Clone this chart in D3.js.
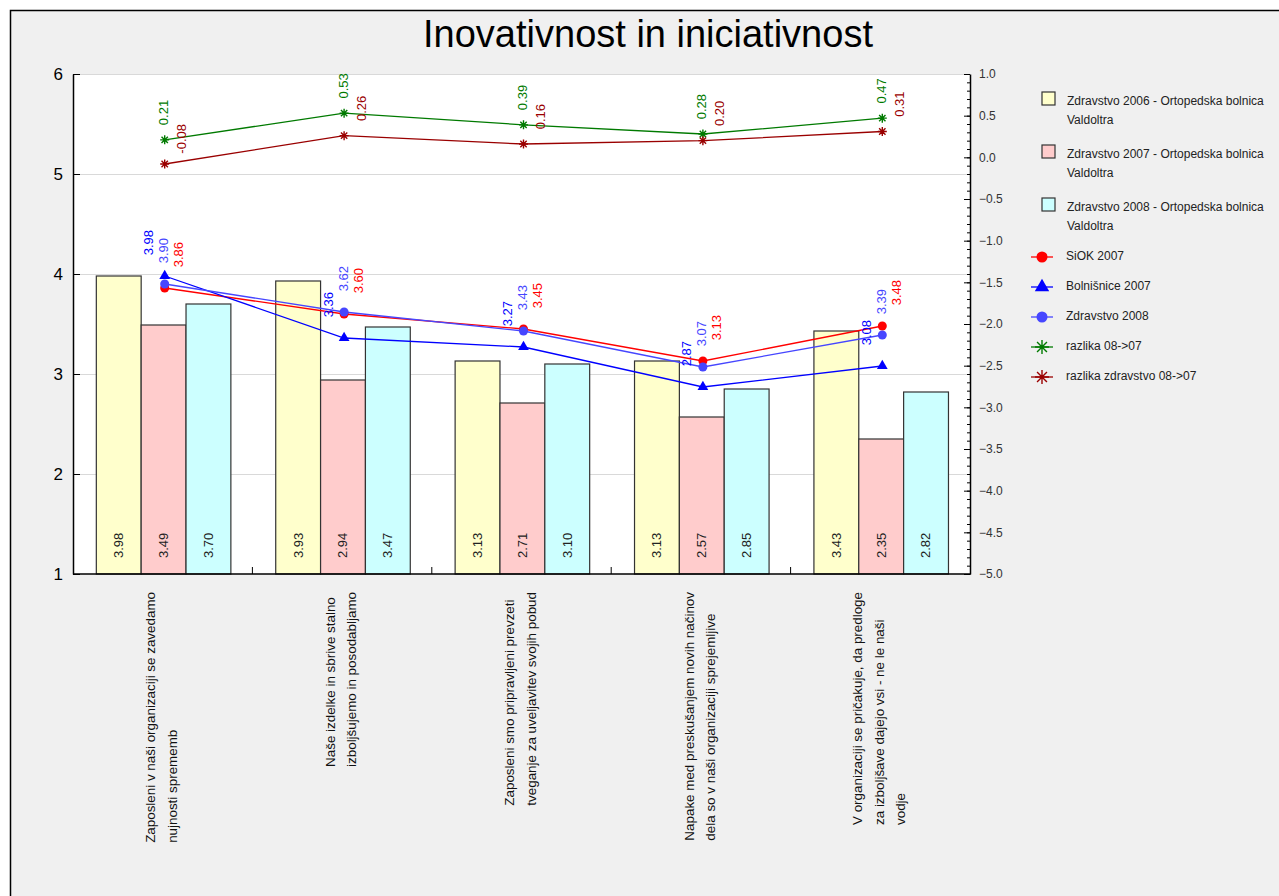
<!DOCTYPE html>
<html>
<head>
<meta charset="utf-8">
<script src="https://cdn.jsdelivr.net/npm/d3@7/dist/d3.min.js"></script>
<style>
  html, body { margin: 0; padding: 0; background: #ffffff; }
  svg { display: block; font-family: "Liberation Sans", Arial, sans-serif; }
</style>
</head>
<body>
<svg id="chart" width="1279" height="896"></svg>
<script>
// ---- data ----
const categories = [
  ["Zaposleni v naši organizaciji se zavedamo", "nujnosti sprememb"],
  ["Naše izdelke in sbrive stalno", "izboljšujemo in posodabljamo"],
  ["Zaposleni smo pripravljeni prevzeti", "tveganje za uveljavitev svojih pobud"],
  ["Napake med preskušanjem novih načinov", "dela so v naši organizaciji sprejemljive"],
  ["V organizaciji se pričakuje, da predloge", "za izboljšave dajejo vsi - ne le naši", "vodje"]
];
const barSeriesNames = [
  "Zdravstvo 2006 - Ortopedska bolnica Valdoltra",
  "Zdravstvo 2007 - Ortopedska bolnica Valdoltra",
  "Zdravstvo 2008 - Ortopedska bolnica Valdoltra"
];
const zdravstvo2006 = [3.98, 3.93, 3.13, 3.13, 3.43];
const zdravstvo2007 = [3.49, 2.94, 2.71, 2.57, 2.35];
const zdravstvo2008Bars = [3.70, 3.47, 3.10, 2.85, 2.82];

const siok2007 = [3.86, 3.60, 3.45, 3.13, 3.48];
const bolnisnice2007 = [3.98, 3.36, 3.27, 2.87, 3.08];
const zdravstvo2008 = [3.90, 3.62, 3.43, 3.07, 3.39];
const razlika0807 = [0.21, 0.53, 0.39, 0.28, 0.47];
const razlikaZdravstvo0807 = [-0.08, 0.26, 0.16, 0.20, 0.31];

const leftTicks = [1, 2, 3, 4, 5, 6];
const rightMajorTicks = [1.0, 0.5, 0.0, -0.5, -1.0, -1.5, -2.0, -2.5, -3.0, -3.5, -4.0, -4.5, -5.0];

// ---- layout ----
const svg = d3.select("#chart");
const W = 1279, H = 896;
const plot = { left: 73, right: 970, top: 74, bottom: 574 };

svg.append("rect")
  .attr("x", 10.5).attr("y", 10.5)
  .attr("width", W + 20).attr("height", H + 20)
  .attr("fill", "#f0f0f0").attr("stroke", "#000").attr("stroke-width", 1.5);

svg.append("text")
  .attr("x", 648).attr("y", 47)
  .attr("text-anchor", "middle")
  .attr("font-size", 38)
  .attr("fill", "#000")
  .text("Inovativnost in iniciativnost");

const catIdx = d3.range(categories.length);
const x = d3.scaleBand().domain(catIdx).range([plot.left, plot.right]).padding(0);
const xInner = d3.scaleBand().domain([0, 1, 2])
  .range([x.bandwidth() * 0.13, x.bandwidth() * 0.88]).padding(0);
const y = d3.scaleLinear().domain([1, 6]).range([plot.bottom, plot.top]);
const yR = d3.scaleLinear().domain([-5, 1]).range([plot.bottom, plot.top]);

// plot background
svg.append("rect")
  .attr("x", plot.left).attr("y", plot.top)
  .attr("width", plot.right - plot.left).attr("height", plot.bottom - plot.top)
  .attr("fill", "#ffffff");

// gridlines
svg.append("g").selectAll("line")
  .data(leftTicks.filter(d => d > 1))
  .join("line")
  .attr("x1", plot.left).attr("x2", plot.right)
  .attr("y1", d => Math.round(y(d)) + 0.5).attr("y2", d => Math.round(y(d)) + 0.5)
  .attr("stroke", "#d9d9d9").attr("stroke-width", 1);

// bars
const barColors = ["#ffffcc", "#ffcccc", "#ccffff"];
const barData = [zdravstvo2006, zdravstvo2007, zdravstvo2008Bars];
const barG = svg.append("g");
barData.forEach((vals, s) => {
  vals.forEach((v, i) => {
    const bx = x(i) + xInner(s);
    barG.append("rect")
      .attr("x", bx).attr("y", y(v))
      .attr("width", xInner.bandwidth()).attr("height", plot.bottom - y(v))
      .attr("fill", barColors[s]).attr("stroke", "#333").attr("stroke-width", 1.2);
    barG.append("text")
      .attr("transform", `translate(${bx + xInner.bandwidth() / 2 + 1},${plot.bottom - 16}) rotate(-90)`)
      .attr("text-anchor", "start").attr("dominant-baseline", "middle")
      .attr("font-size", 13).attr("fill", "#222")
      .text(v.toFixed(2));
  });
});

// axes
const leftAxis = d3.axisLeft(y).tickValues(leftTicks).tickSizeInner(-7).tickSizeOuter(0).tickPadding(10).tickFormat(d3.format("d"));
const gL = svg.append("g").attr("transform", `translate(${plot.left},0)`).call(leftAxis);
gL.selectAll("text").attr("font-size", 17).attr("fill", "#000").attr("font-family", "Liberation Sans, Arial, sans-serif");
gL.select(".domain").attr("stroke", "#000").attr("stroke-width", 1.5);
gL.selectAll(".tick line").attr("stroke", "#000");

const rightAxisMinor = d3.axisRight(yR).tickValues(d3.range(-50, 11).map(d => d / 10)).tickSizeInner(-3).tickSizeOuter(0).tickFormat("");
const gRm = svg.append("g").attr("transform", `translate(${plot.right},0)`).call(rightAxisMinor);
gRm.select(".domain").attr("stroke", "#000").attr("stroke-width", 1.5);
gRm.selectAll(".tick line").attr("stroke", "#000");
const rightAxis = d3.axisRight(yR).tickValues(rightMajorTicks).tickSizeInner(-6).tickSizeOuter(0).tickPadding(9).tickFormat(d3.format(".1f"));
const gR = svg.append("g").attr("transform", `translate(${plot.right},0)`).call(rightAxis);
gR.select(".domain").remove();
gR.selectAll("text").attr("font-size", 12).attr("fill", "#333").attr("font-family", "Liberation Sans, Arial, sans-serif");
gR.selectAll(".tick line").attr("stroke", "#000");

// bottom axis: group dividers
svg.append("line")
  .attr("x1", plot.left).attr("x2", plot.right + 0.75)
  .attr("y1", plot.bottom).attr("y2", plot.bottom)
  .attr("stroke", "#000").attr("stroke-width", 1.5);
svg.append("g").selectAll("line")
  .data(catIdx.slice(1))
  .join("line")
  .attr("x1", d => x(d)).attr("x2", d => x(d))
  .attr("y1", plot.bottom).attr("y2", plot.bottom - 7)
  .attr("stroke", "#000");

// category labels (rotated, lines start-aligned)
const catG = svg.append("g");
categories.forEach((lines, i) => {
  const cx = x(i) + x.bandwidth() / 2;
  const tmp = lines.map(t => catG.append("text")
    .attr("font-size", 13.4).attr("fill", "#111")
    .attr("text-anchor", "start").attr("dominant-baseline", "middle").text(t));
  const maxLen = d3.max(tmp, t => t.node().getComputedTextLength());
  tmp.forEach((t, j) => {
    const lx = cx + (j - (lines.length - 1) / 2) * 21.5;
    t.attr("transform", `translate(${lx},${592 + maxLen}) rotate(-90)`);
  });
});

// marker shapes
function starPath(r) {
  const d = r * Math.SQRT1_2;
  return `M${-r},0L${r},0M0,${-r}L0,${r}M${-d},${-d}L${d},${d}M${-d},${d}L${d},${-d}`;
}
const circlePath = r => d3.symbol(d3.symbolCircle, Math.PI * r * r)();
const trianglePath = s => d3.symbol(d3.symbolTriangle, s)();

const lineSeries = [
  { name: "SiOK 2007", values: siok2007, color: "#ff0000", scale: y, marker: "circle", dx: 15, lift: 46 },
  { name: "Bolnišnice 2007", values: bolnisnice2007, color: "#0000ff", scale: y, marker: "triangle", dx: -15, lift: 46 },
  { name: "Zdravstvo 2008", values: zdravstvo2008, color: "#4646ff", scale: y, marker: "circle", dx: 0, lift: 46 },
  { name: "razlika 08->07", values: razlika0807, color: "#007a00", scale: yR, marker: "star", dx: 0, lift: 40 },
  { name: "razlika zdravstvo 08->07", values: razlikaZdravstvo0807, color: "#9a0000", scale: yR, marker: "star", dx: 18, lift: 40 }
];

function markerFor(sel, s, big) {
  if (s.marker === "circle") {
    sel.attr("d", circlePath(big ? 5.5 : 4.5)).attr("fill", s.color).attr("stroke", "none");
  } else if (s.marker === "triangle") {
    sel.attr("d", trianglePath(big ? 90 : 50)).attr("fill", s.color).attr("stroke", "none");
  } else {
    sel.attr("d", starPath(big ? 7 : 4.5)).attr("fill", "none").attr("stroke", s.color).attr("stroke-width", 1.4);
  }
}

const cxOf = i => x(i) + x.bandwidth() / 2 + 2;
const linesG = svg.append("g");
lineSeries.forEach(s => {
  const gen = d3.line().x((d, i) => cxOf(i)).y(d => s.scale(d));
  linesG.append("path")
    .attr("d", gen(s.values))
    .attr("fill", "none").attr("stroke", s.color).attr("stroke-width", 1.3);
});
lineSeries.forEach(s => {
  s.values.forEach((v, i) => {
    linesG.append("path")
      .attr("transform", `translate(${cxOf(i)},${s.scale(v)})`)
      .call(markerFor, s, false);
  });
});
// value labels above points
lineSeries.forEach(s => {
  s.values.forEach((v, i) => {
    linesG.append("text")
      .attr("transform", `translate(${cxOf(i) + s.dx},${s.scale(v) - s.lift}) rotate(-90)`)
      .attr("text-anchor", "end").attr("dominant-baseline", "middle")
      .attr("font-size", 13).attr("fill", s.color)
      .text(v.toFixed(2));
  });
});

// legend
const legG = svg.append("g");
const barLegY = [92, 145, 198];
barSeriesNames.forEach((name, i) => {
  legG.append("rect")
    .attr("x", 1042).attr("y", barLegY[i])
    .attr("width", 13).attr("height", 13)
    .attr("fill", barColors[i]).attr("stroke", "#333").attr("stroke-width", 1.2);
  const parts = [name.replace(" Valdoltra", ""), "Valdoltra"];
  parts.forEach((p, j) => {
    legG.append("text")
      .attr("x", 1067).attr("y", barLegY[i] + 10 + j * 18.5)
      .attr("dominant-baseline", "middle")
      .attr("font-size", 12).attr("fill", "#222").text(p);
  });
});
const lineLegY = [257, 287, 317, 347, 377];
lineSeries.forEach((s, i) => {
  const ly = lineLegY[i];
  legG.append("line")
    .attr("x1", 1031).attr("x2", 1053).attr("y1", ly).attr("y2", ly)
    .attr("stroke", s.color).attr("stroke-width", 1.3);
  legG.append("path").attr("transform", `translate(1042,${ly})`).call(markerFor, s, true);
  legG.append("text")
    .attr("x", 1066).attr("y", ly)
    .attr("dominant-baseline", "middle")
    .attr("font-size", 12).attr("fill", "#222").text(s.name);
});
</script>
</body>
</html>
